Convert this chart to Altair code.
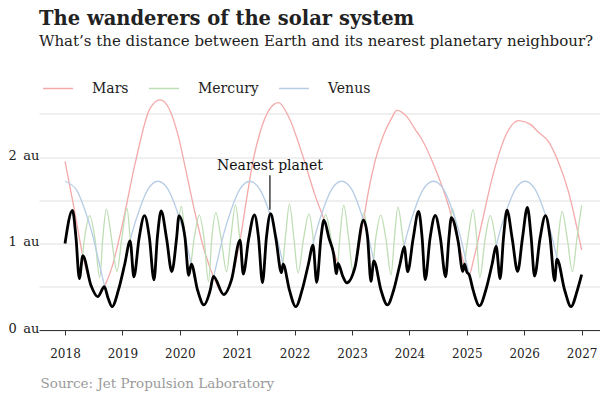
import altair as alt
import pandas as pd

# ---------------- data ----------------
mercury_year = [
    2018.0, 2018.13, 2018.19, 2018.25, 2018.34, 2018.43, 2018.52, 2018.605, 2018.66, 2018.72,
    2018.81, 2018.905, 2018.99, 2019.08, 2019.14, 2019.20, 2019.29, 2019.385, 2019.47, 2019.55,
    2019.61, 2019.675, 2019.77, 2019.86, 2019.945, 2020.027, 2020.09, 2020.155, 2020.25, 2020.34,
    2020.42, 2020.50, 2020.56, 2020.627, 2020.72, 2020.815, 2020.89, 2020.97, 2021.04, 2021.105,
    2021.20, 2021.30, 2021.37, 2021.44, 2021.51, 2021.58, 2021.675, 2021.77, 2021.84, 2021.91,
    2021.985, 2022.06, 2022.155, 2022.25, 2022.32, 2022.385, 2022.46, 2022.54, 2022.635, 2022.73,
    2022.79, 2022.855, 2022.94, 2023.02, 2023.115, 2023.21, 2023.27, 2023.33, 2023.415, 2023.50,
    2023.59, 2023.68, 2023.74, 2023.80, 2023.885, 2023.97, 2024.065, 2024.16, 2024.22, 2024.275,
    2024.36, 2024.45, 2024.54, 2024.63, 2024.69, 2024.75, 2024.84, 2024.93, 2025.02, 2025.11,
    2025.17, 2025.225, 2025.32, 2025.41, 2025.495, 2025.58, 2025.64, 2025.70, 2025.79, 2025.885,
    2025.97, 2026.055, 2026.12, 2026.18, 2026.275, 2026.37, 2026.45, 2026.53, 2026.595, 2026.66,
    2026.75, 2026.84, 2026.92, 2027.0,
]
mercury_au = [
    1.00, 1.384, 1.077, 0.595, 1.061, 1.322, 1.063, 0.605, 1.077, 1.394,
    1.06, 0.679, 1.064, 1.405, 1.02, 0.614, 1.059, 1.322, 1.068, 0.579,
    1.079, 1.376, 1.056, 0.676, 1.07, 1.432, 1.079, 0.632, 1.056, 1.328,
    1.073, 0.558, 1.079, 1.358, 1.053, 0.674, 1.073, 1.447, 1.077, 0.647,
    1.054, 1.330, 1.077, 0.549, 1.077, 1.344, 1.053, 0.663, 1.077, 1.452,
    1.075, 0.660, 1.053, 1.341, 1.077, 0.551, 1.075, 1.334, 1.055, 0.652,
    1.077, 1.440, 1.07, 0.669, 1.055, 1.354, 1.079, 0.562, 1.07, 1.328,
    1.056, 0.637, 1.075, 1.42, 1.065, 0.674, 1.058, 1.372, 1.077, 0.583,
    1.065, 1.324, 1.062, 0.616, 1.077, 1.404, 1.061, 0.678, 1.063, 1.393,
    1.077, 0.604, 1.06, 1.3215, 1.065, 0.594, 1.077, 1.385, 1.059, 0.677,
    1.066, 1.418, 1.077, 0.623, 1.058, 1.323, 1.07, 0.569, 1.079, 1.371,
    1.055, 0.675, 1.07, 1.44,
]

venus_year = [
    2018.0, 2018.2, 2018.34, 2018.48, 2018.60, 2018.71, 2018.82, 2018.93, 2019.04, 2019.16,
    2019.30, 2019.44, 2019.62, 2019.80, 2019.94, 2020.08, 2020.20, 2020.31, 2020.42, 2020.53,
    2020.64, 2020.76, 2020.90, 2021.04, 2021.22, 2021.40, 2021.54, 2021.68, 2021.80, 2021.91,
    2022.02, 2022.13, 2022.24, 2022.36, 2022.50, 2022.64, 2022.82, 2023.0, 2023.135, 2023.275,
    2023.395, 2023.505, 2023.615, 2023.725, 2023.835, 2023.955, 2024.095, 2024.235, 2024.42, 2024.60,
    2024.74, 2024.88, 2025.0, 2025.11, 2025.22, 2025.33, 2025.44, 2025.56, 2025.70, 2025.84,
    2026.015, 2026.195, 2026.335, 2026.475, 2026.595, 2026.705, 2026.815, 2026.925, 2027.0,
]
venus_au = [
    1.72, 1.62, 1.40, 1.10, 0.76, 0.46, 0.27, 0.46, 0.76, 1.10,
    1.40, 1.62, 1.72, 1.62, 1.40, 1.10, 0.76, 0.46, 0.29, 0.46,
    0.76, 1.10, 1.40, 1.62, 1.72, 1.62, 1.40, 1.10, 0.76, 0.46,
    0.27, 0.46, 0.76, 1.10, 1.40, 1.62, 1.72, 1.62, 1.40, 1.10,
    0.76, 0.46, 0.29, 0.46, 0.76, 1.10, 1.40, 1.62, 1.72, 1.62,
    1.40, 1.10, 0.76, 0.46, 0.28, 0.46, 0.76, 1.10, 1.40, 1.62,
    1.72, 1.62, 1.40, 1.10, 0.76, 0.46, 0.27, 0.46, 0.64,
]

mars_year = [
    2018.0, 2018.16, 2018.31, 2018.45, 2018.57, 2018.685, 2018.82, 2019.0, 2019.22, 2019.48,
    2019.655, 2019.82, 2019.97, 2020.12, 2020.26, 2020.41, 2020.585, 2020.765, 2020.9, 2021.05,
    2021.165, 2021.28, 2021.40, 2021.57, 2021.72, 2021.9, 2022.12, 2022.355, 2022.53, 2022.64,
    2022.76, 2022.84, 2022.91, 2023.05, 2023.2, 2023.285, 2023.40, 2023.545, 2023.69, 2023.78,
    2023.95, 2024.1, 2024.22, 2024.43, 2024.68, 2024.85, 2024.96, 2025.04, 2025.12, 2025.25,
    2025.45, 2025.7, 2025.9, 2026.1, 2026.245, 2026.42, 2026.59, 2026.77, 2027.0,
]
mars_au = [
    1.95, 1.40, 0.86, 0.52, 0.385, 0.50, 0.73, 1.22, 1.92, 2.56,
    2.66, 2.55, 2.25, 1.80, 1.37, 0.96, 0.62, 0.41, 0.58, 1.04,
    1.52, 1.97, 2.29, 2.56, 2.63, 2.46, 2.06, 1.56, 1.24, 0.98,
    0.76, 0.62, 0.545, 0.72, 1.27, 1.60, 1.95, 2.25, 2.45, 2.54,
    2.47, 2.32, 2.20, 1.90, 1.44, 1.02, 0.75, 0.64, 0.82, 1.20,
    1.78, 2.28, 2.42, 2.38, 2.29, 2.18, 1.95, 1.60, 0.925,
]

nearest_year = [
    2018.00, 2018.13, 2018.19, 2018.25, 2018.31, 2018.45, 2018.57, 2018.685, 2018.75, 2018.82,
    2018.93, 2019.04, 2019.135, 2019.20, 2019.29, 2019.385, 2019.47, 2019.55, 2019.61, 2019.675,
    2019.77, 2019.86, 2019.945, 2019.985, 2020.09, 2020.155, 2020.20, 2020.31, 2020.42, 2020.53,
    2020.585, 2020.765, 2020.9, 2021.05, 2021.105, 2021.20, 2021.30, 2021.37, 2021.44, 2021.51,
    2021.58, 2021.675, 2021.77, 2021.80, 2021.91, 2022.02, 2022.13, 2022.24, 2022.32, 2022.385,
    2022.46, 2022.51, 2022.60, 2022.68, 2022.73, 2022.755, 2022.84, 2022.91, 2023.05, 2023.20,
    2023.27, 2023.33, 2023.38, 2023.505, 2023.615, 2023.725, 2023.835, 2023.91, 2023.97, 2024.065,
    2024.16, 2024.22, 2024.275, 2024.36, 2024.45, 2024.54, 2024.63, 2024.69, 2024.73, 2024.85,
    2024.93, 2024.96, 2025.00, 2025.04, 2025.11, 2025.22, 2025.33, 2025.44, 2025.51, 2025.58,
    2025.64, 2025.70, 2025.79, 2025.885, 2025.97, 2026.055, 2026.12, 2026.18, 2026.275, 2026.37,
    2026.45, 2026.53, 2026.57, 2026.705, 2026.815, 2026.925, 2027.00,
]
nearest_au = [
    1.00, 1.384, 1.077, 0.595, 0.86, 0.52, 0.385, 0.50, 0.37, 0.27,
    0.46, 0.76, 1.03, 0.614, 1.059, 1.322, 1.068, 0.579, 1.079, 1.376,
    1.056, 0.676, 1.07, 1.32, 1.07, 0.632, 0.76, 0.46, 0.29, 0.46,
    0.62, 0.41, 0.58, 1.04, 0.647, 1.054, 1.330, 1.077, 0.549, 1.077,
    1.344, 1.053, 0.663, 0.76, 0.46, 0.27, 0.46, 0.76, 0.98, 0.551,
    1.075, 1.27, 1.06, 0.88, 0.652, 0.77, 0.62, 0.545, 0.72, 1.27,
    1.08, 0.562, 0.80, 0.46, 0.29, 0.46, 0.76, 0.96, 0.674, 1.058,
    1.372, 1.077, 0.583, 1.065, 1.324, 1.062, 0.616, 1.077, 1.30, 1.02,
    0.678, 0.76, 0.67, 0.64, 0.46, 0.28, 0.46, 0.76, 0.97, 0.594,
    1.077, 1.385, 1.059, 0.677, 1.066, 1.418, 1.077, 0.623, 1.058, 1.323,
    1.07, 0.569, 0.82, 0.46, 0.27, 0.46, 0.64,
]

planet_names = ["Mars", "Mercury", "Venus"]
planet_colors = ["#f4a9a9", "#bfdeb6", "#b7cce5"]
year_ticks = [2018, 2019, 2020, 2021, 2022, 2023, 2024, 2025, 2026, 2027]
au_ticks = [0, 0.5, 1, 1.5, 2, 2.5]

annotation_label = ["Nearest planet"]
annotation_year = [2021.57]
annotation_text_au = [1.90]
annotation_line_top = [1.79]
annotation_line_bottom = [1.39]

# ---------------- tables ----------------
planets = pd.concat([
    pd.DataFrame({"year": mars_year, "au": mars_au, "planet": "Mars"}),
    pd.DataFrame({"year": mercury_year, "au": mercury_au, "planet": "Mercury"}),
    pd.DataFrame({"year": venus_year, "au": venus_au, "planet": "Venus"}),
], ignore_index=True)
nearest = pd.DataFrame({"year": nearest_year, "au": nearest_au})
ann = pd.DataFrame({
    "year": annotation_year, "label": annotation_label, "ty": annotation_text_au,
    "y0": annotation_line_top, "y1": annotation_line_bottom,
})

FONT = "DejaVu Serif"
x_scale = alt.Scale(domain=[2017.547, 2027.32], nice=False, zero=False)
y_scale = alt.Scale(domain=[0, 2.7], nice=False)

x_axis = alt.Axis(
    values=year_ticks, format="d",
    title="Source: Jet Propulsion Laboratory",
    titleX=1, titleY=53, titleAnchor="start", titleAlign="left", titleBaseline="middle",
    titleFont=FONT, titleFontSize=13.5, titleFontWeight="normal", titleColor="#9a9a9a",
    labelFont=FONT, labelFontSize=12, labelColor="#222222", labelPadding=13,
    tickSize=5, tickColor="#333333", domainColor="#333333", grid=False, labelFlush=False,
)
y_axis = alt.Axis(
    values=au_ticks,
    labelExpr="datum.value % 1 === 0 ? datum.value + '\u2002au' : ''",
    labelAlign="left", labelPadding=31, labelBaseline="middle", labelOffset=-2,
    ticks=False, tickSize=0, domain=False, grid=True, gridColor="#e0e0e0", gridWidth=1,
    title=None, labelFont=FONT, labelFontSize=13, labelColor="#222222",
)

X = alt.X("year:Q", scale=x_scale, axis=x_axis)

lines = alt.Chart(planets).mark_line(strokeWidth=1.3, interpolate="monotone").encode(
    x=X,
    y=alt.Y("au:Q", scale=y_scale, axis=y_axis),
    color=alt.Color(
        "planet:N",
        scale=alt.Scale(domain=planet_names, range=planet_colors),
        legend=alt.Legend(
            orient="none", legendX=3, legendY=-24, direction="horizontal", title=None,
            symbolType="stroke", symbolSize=900, symbolStrokeWidth=1.5,
            labelFont=FONT, labelFontSize=14, labelColor="#222222",
            labelOffset=18, columnPadding=17, padding=0,
        ),
    ),
    detail="planet:N",
)

black = alt.Chart(nearest).mark_line(
    color="#000000", strokeWidth=2.8, interpolate="monotone"
).encode(
    x=X,
    y=alt.Y("au:Q", scale=y_scale, axis=y_axis),
)

pointer = alt.Chart(ann).mark_rule(color="#111111", strokeWidth=1.2).encode(
    x=X,
    y=alt.Y("y0:Q", scale=y_scale, axis=y_axis),
    y2="y1:Q",
)
label = alt.Chart(ann).mark_text(
    font=FONT, fontSize=14, color="#111111", align="center", baseline="middle"
).encode(
    x=X,
    y=alt.Y("ty:Q", scale=y_scale, axis=y_axis),
    text="label:N",
)

chart = alt.layer(lines, black, pointer, label).properties(
    width=561,
    height=233.5,
    autosize=alt.AutoSizeParams(type="none"),
    padding={"left": 31, "top": 88.5, "right": 0, "bottom": 62},
    title=alt.TitleParams(
        text="The wanderers of the solar system",
        subtitle="What\u2019s the distance between Earth and its nearest planetary neighbour?",
        anchor="start", frame="group", offset=23,
        font=FONT, fontSize=19.5, fontWeight="bold", color="#222222",
        subtitleFont=FONT, subtitleFontSize=15.0, subtitleColor="#222222", subtitlePadding=4,
    ),
).configure_view(stroke=None)

chart.save("out.html", embed_options={"renderer": "svg", "actions": False})
